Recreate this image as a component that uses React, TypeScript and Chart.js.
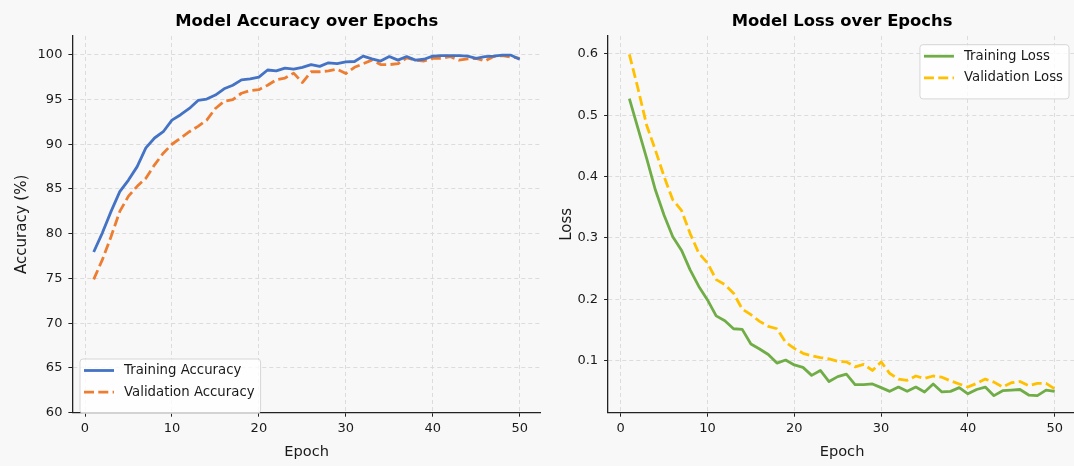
import React, { useEffect, useRef } from "react";
import { Chart, registerables } from "chart.js";

Chart.register(...registerables);

const epochs = [1, 2, 3, 4, 5, 6, 7, 8, 9, 10, 11, 12, 13, 14, 15, 16, 17, 18, 19, 20, 21, 22, 23, 24, 25, 26, 27, 28, 29, 30, 31, 32, 33, 34, 35, 36, 37, 38, 39, 40, 41, 42, 43, 44, 45, 46, 47, 48, 49, 50];

const trainAcc = [77.96, 80.1, 82.5, 84.7, 86.0, 87.5, 89.6, 90.7, 91.4, 92.7, 93.3, 94.0, 94.9, 95.05, 95.5, 96.2, 96.6, 97.2, 97.3, 97.5, 98.3, 98.2, 98.5, 98.4, 98.6, 98.9, 98.7, 99.1, 99.0, 99.2, 99.25, 99.85, 99.55, 99.3, 99.8, 99.4, 99.8, 99.4, 99.5, 99.85, 99.9, 99.9, 99.9, 99.85, 99.6, 99.8, 99.85, 99.95, 99.95, 99.5];
const valAcc = [74.9, 77.1, 79.7, 82.5, 84.2, 85.3, 86.2, 87.7, 89.0, 90.0, 90.7, 91.4, 92.0, 92.7, 94.0, 94.8, 95.0, 95.7, 96.0, 96.1, 96.6, 97.2, 97.4, 97.95, 96.9, 98.1, 98.1, 98.2, 98.4, 97.9, 98.6, 99.0, 99.4, 98.9, 98.9, 99.0, 99.65, 99.4, 99.3, 99.6, 99.6, 99.8, 99.4, 99.55, 99.6, 99.3, 99.8, 99.9, 99.75, 99.6];
const trainLoss = [0.527, 0.478, 0.429, 0.378, 0.337, 0.302, 0.28, 0.248, 0.221, 0.199, 0.173, 0.165, 0.152, 0.151, 0.127, 0.119, 0.11, 0.096, 0.101, 0.093, 0.089, 0.076, 0.084, 0.066, 0.074, 0.078, 0.061, 0.061, 0.062, 0.056, 0.05, 0.057, 0.05, 0.057, 0.049, 0.062, 0.049, 0.05, 0.056, 0.046, 0.053, 0.057, 0.043, 0.051, 0.052, 0.053, 0.044, 0.043, 0.052, 0.05];
const valLoss = [0.599, 0.543, 0.483, 0.443, 0.4, 0.362, 0.345, 0.307, 0.275, 0.259, 0.232, 0.224, 0.21, 0.184, 0.175, 0.164, 0.156, 0.152, 0.13, 0.12, 0.112, 0.108, 0.105, 0.103, 0.099, 0.098, 0.09, 0.094, 0.084, 0.098, 0.079, 0.07, 0.068, 0.075, 0.071, 0.075, 0.073, 0.067, 0.062, 0.057, 0.063, 0.07, 0.065, 0.057, 0.064, 0.066, 0.059, 0.063, 0.063, 0.054];

const xTicks = [0, 10, 20, 30, 40, 50];
const accTicks = [60, 65, 70, 75, 80, 85, 90, 95, 100];
const lossTicks = [0.1, 0.2, 0.3, 0.4, 0.5, 0.6];

const FONT = "'DejaVu Sans', sans-serif";
const BG = "#f8f8f8";
const TEXT = "#1a1a1a";
const LEGEND_FONT = 13.3;

type LegendCfg = { anchor: "left" | "right"; x: number; y: number };

const legendPlugin = {
  id: "innerLegend",
  afterDraw(chart: any) {
    const cfg: LegendCfg = chart.options.plugins.innerLegend;
    if (!cfg) return;
    const ctx = chart.ctx;
    const ds = chart.data.datasets;
    ctx.save();
    ctx.font = `${LEGEND_FONT}px ${FONT}`;
    const textW = Math.max(...ds.map((d: any) => ctx.measureText(d.label).width));
    const w = 4 + 30 + 10 + textW + 6;
    const rowH = 21.6;
    const h = 9 + rowH * ds.length + 2;
    const left = cfg.anchor === "left" ? cfg.x : cfg.x - w;
    const top = cfg.y;
    const r = 3;
    ctx.beginPath();
    ctx.moveTo(left + r, top);
    ctx.lineTo(left + w - r, top);
    ctx.arcTo(left + w, top, left + w, top + r, r);
    ctx.lineTo(left + w, top + h - r);
    ctx.arcTo(left + w, top + h, left + w - r, top + h, r);
    ctx.lineTo(left + r, top + h);
    ctx.arcTo(left, top + h, left, top + h - r, r);
    ctx.lineTo(left, top + r);
    ctx.arcTo(left, top, left + r, top, r);
    ctx.closePath();
    ctx.fillStyle = "rgba(255,255,255,0.8)";
    ctx.fill();
    ctx.strokeStyle = "#d6d6d6";
    ctx.lineWidth = 1;
    ctx.stroke();
    ds.forEach((d: any, i: number) => {
      const cy = top + 11.5 + i * rowH;
      ctx.beginPath();
      ctx.setLineDash(d.borderDash || []);
      ctx.strokeStyle = d.borderColor;
      ctx.lineWidth = d.borderWidth;
      ctx.lineCap = "butt";
      ctx.moveTo(left + 4, cy);
      ctx.lineTo(left + 34, cy);
      ctx.stroke();
      ctx.setLineDash([]);
      ctx.fillStyle = TEXT;
      ctx.textBaseline = "middle";
      ctx.textAlign = "left";
      ctx.fillText(d.label, left + 44, cy);
    });
    ctx.restore();
  },
};

function makeConfig(opts: {
  title: string;
  yTitle: string;
  yTitlePad: number;
  yWidth: number;
  yMin: number;
  yMax: number;
  yTicks: number[];
  yFmt: (v: number) => string;
  series: { label: string; data: number[]; color: string; dash?: number[] }[];
  legend: LegendCfg;
}) {
  return {
    type: "line" as const,
    data: {
      datasets: opts.series.map((s) => ({
        label: s.label,
        data: epochs.map((e, i) => ({ x: e, y: s.data[i] })),
        borderColor: s.color,
        backgroundColor: s.color,
        borderWidth: 2.8,
        borderDash: s.dash || [],
        borderJoinStyle: "round",
        borderCapStyle: "butt",
        pointRadius: 0,
        tension: 0,
        fill: false,
      })),
    },
    options: {
      animation: false,
      responsive: false,
      events: [],
      layout: { padding: 0 },
      plugins: {
        legend: { display: false },
        tooltip: { enabled: false },
        title: {
          display: true,
          fullSize: false,
          text: opts.title,
          color: "#000",
          font: { family: FONT, size: 16.4, weight: "bold" },
          padding: { top: 12, bottom: 4.3 },
        },
        innerLegend: opts.legend,
      },
      scales: {
        x: {
          type: "linear",
          min: -1.45,
          max: 52.45,
          afterBuildTicks: (s: any) => {
            s.ticks = xTicks.map((v) => ({ value: v }));
          },
          afterFit: (s: any) => {
            s.height = 53.3;
          },
          grid: { color: "#dcdcdc", lineWidth: 1, tickColor: "#222", tickLength: 4, tickWidth: 1 },
          border: { display: true, color: "#222", width: 1.3, dash: [4, 3] },
          ticks: { color: TEXT, font: { family: FONT, size: 13 }, padding: 4, maxRotation: 0, autoSkip: false, callback: (v: any) => String(v) },
          title: { display: true, text: "Epoch", color: TEXT, font: { family: FONT, size: 14.6 }, padding: { top: 0, bottom: 5.4 } },
        },
        y: {
          type: "linear",
          min: opts.yMin,
          max: opts.yMax,
          afterBuildTicks: (s: any) => {
            s.ticks = opts.yTicks.map((v) => ({ value: v }));
          },
          afterFit: (s: any) => {
            s.width = opts.yWidth;
          },
          grid: { color: "#dcdcdc", lineWidth: 1, tickColor: "#222", tickLength: 4, tickWidth: 1 },
          border: { display: true, color: "#222", width: 1.3, dash: [4, 3] },
          ticks: { color: TEXT, font: { family: FONT, size: 13 }, padding: 6, autoSkip: false, callback: (v: any) => opts.yFmt(v) },
          title: { display: true, text: opts.yTitle, color: TEXT, font: { family: FONT, size: 15 }, padding: { top: opts.yTitlePad, bottom: 0 } },
        },
      },
    },
    plugins: [legendPlugin],
  };
}

function ChartCanvas({ config, left, width }: { config: any; left: number; width: number }) {
  const ref = useRef<HTMLCanvasElement | null>(null);
  useEffect(() => {
    if (!ref.current) return;
    const chart = new Chart(ref.current, config);
    return () => chart.destroy();
  }, [config]);
  return (
    <canvas
      ref={ref}
      width={width}
      height={466}
      style={{ position: "absolute", left, top: 0, width, height: 466 }}
    />
  );
}

const accConfig = makeConfig({
  title: "Model Accuracy over Epochs",
  yTitle: "Accuracy (%)",
  yTitlePad: 13.5,
  yWidth: 72.4,
  yMin: 60,
  yMax: 102.1,
  yTicks: accTicks,
  yFmt: (v) => String(v),
  series: [
    { label: "Training Accuracy", data: trainAcc, color: "#4472C4" },
    { label: "Validation Accuracy", data: valAcc, color: "#ED7D31", dash: [10, 4.3] },
  ],
  legend: { anchor: "left", x: 80, y: 359 },
});

const lossConfig = makeConfig({
  title: "Model Loss over Epochs",
  yTitle: "Loss",
  yTitlePad: 22.5,
  yWidth: 72.1,
  yMin: 0.0152,
  yMax: 0.629,
  yTicks: lossTicks,
  yFmt: (v) => v.toFixed(1),
  series: [
    { label: "Training Loss", data: trainLoss, color: "#70AD47" },
    { label: "Validation Loss", data: valLoss, color: "#FFC000", dash: [10, 4.3] },
  ],
  legend: { anchor: "right", x: 533, y: 44.7 },
});

export default function App() {
  return (
    <div
      style={{
        position: "fixed",
        left: 0,
        top: 0,
        width: 1074,
        height: 466,
        overflow: "hidden",
        background: BG,
      }}
    >
      <ChartCanvas config={accConfig} left={0} width={541} />
      <ChartCanvas config={lossConfig} left={536} width={540} />
    </div>
  );
}
